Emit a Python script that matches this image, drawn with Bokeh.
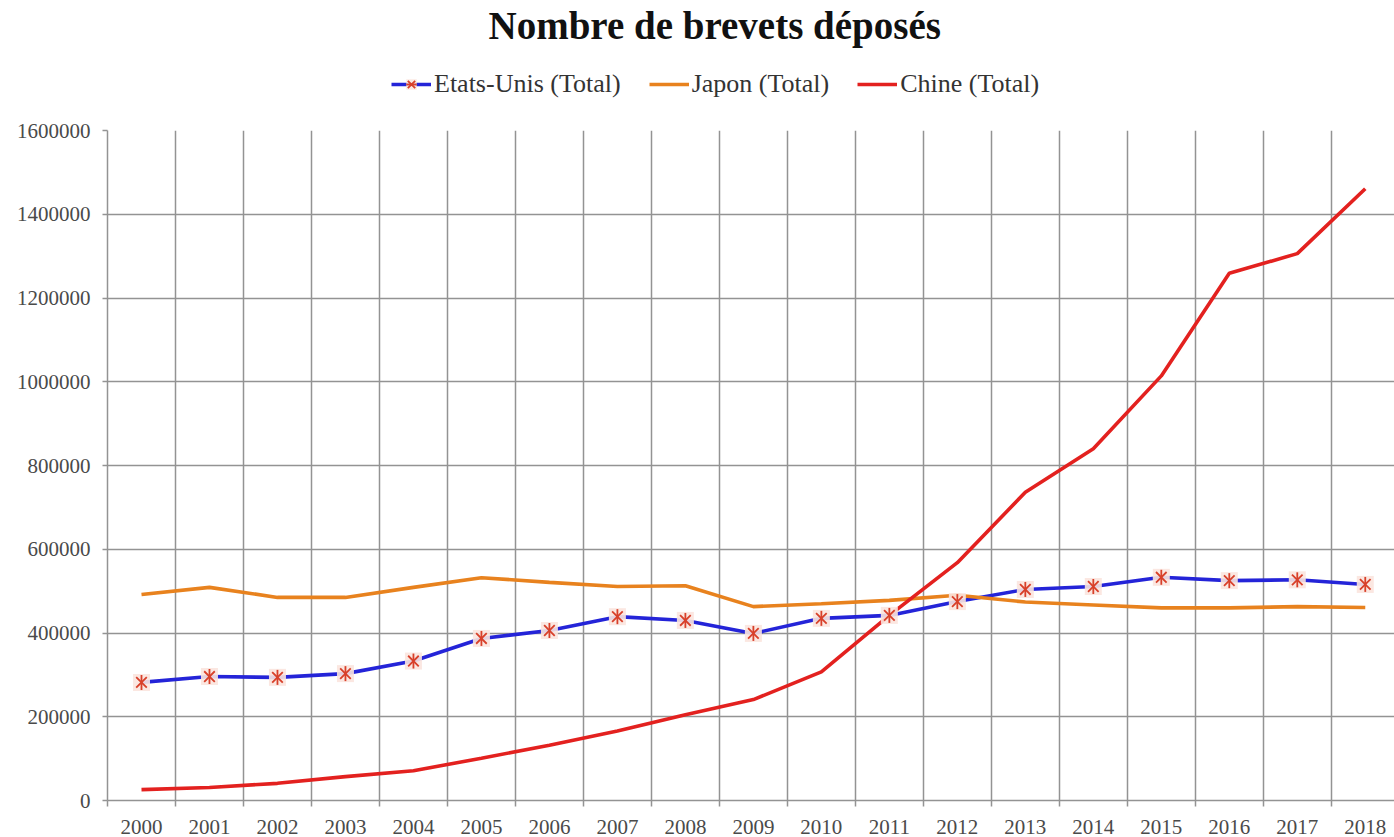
import math
from bokeh.plotting import figure
from bokeh.layouts import column
from bokeh.models import (FixedTicker, NumeralTickFormatter, Legend, LegendItem,
                          Range1d, Label, ColumnDataSource)
from bokeh.embed import file_html
from bokeh.resources import INLINE

# ---------------- data ----------------
years = list(range(2000, 2019))
year_labels = [str(y) for y in years]
etats_unis = [282000, 296000, 294000, 303000, 333000, 387000, 406000, 439000, 430000, 399000,
              435000, 442000, 475000, 504000, 511000, 533000, 525000, 527000, 516000]
japon = [492000, 509000, 485000, 485000, 509000, 532000, 521000, 511000, 513000, 463000,
         470000, 478000, 490000, 474000, 467000, 460000, 460000, 463000, 461000]
chine = [26000, 31000, 41000, 57000, 71000, 101000, 132000, 166000, 205000, 241000,
         307000, 442000, 568000, 736000, 840000, 1014000, 1259000, 1306000, 1461000]
y_ticks = [0, 200000, 400000, 600000, 800000, 1000000, 1200000, 1400000, 1600000]
series_names = ["Etats-Unis (Total)", "Japon (Total)", "Chine (Total)"]
title_text = "Nombre de brevets déposés"

FONT = "Liberation Serif"
GRID = "#939393"
BLUE = "#2424d8"
ORANGE = "#e8821e"
RED = "#e3211f"
MARK = "#d8402a"
HALO = "#fbe4de"

W = 1394
H = 837
LEFT = 107
HEADER_H = 100


def draw_series(fig, src):
    l_us = fig.line("x", "us", source=src, line_color=BLUE, line_width=3.6)
    l_jp = fig.line("x", "jp", source=src, line_color=ORANGE, line_width=3.6)
    l_cn = fig.line("x", "cn", source=src, line_color=RED, line_width=3.6)
    m_halo = fig.scatter("x", "us", source=src, marker="square", size=17,
                         fill_color=HALO, fill_alpha=0.9, line_color=None)
    m_x = fig.scatter("x", "us", source=src, marker="x", size=15,
                      line_color=MARK, line_width=1.8)
    m_d = fig.scatter("x", "us", source=src, marker="dash", size=15, angle=math.pi / 2,
                      line_color=MARK, line_width=1.8)
    return [l_us, m_halo, m_x, m_d], [l_jp], [l_cn]


# ---------------- header (title + legend) ----------------
head = figure(width=W, height=HEADER_H, output_backend="svg", toolbar_location=None,
              x_range=Range1d(LEFT, W), y_range=Range1d(0, HEADER_H),
              min_border_left=LEFT, min_border_right=0,
              min_border_top=0, min_border_bottom=0)
head.axis.visible = False
head.grid.visible = False
head.outline_line_color = None
head.add_layout(Label(x=488, y=HEADER_H - 25, text=title_text, text_font=FONT,
                      text_font_style="bold", text_font_size="39px", text_color="#111111",
                      text_align="left", text_baseline="middle"))
# legend glyph carriers: a single point placed outside the header's visible ranges
swatch = ColumnDataSource(dict(x=[0], us=[-1000], jp=[-1000], cn=[-1000]))
r_us, r_jp, r_cn = draw_series(head, swatch)
legend = Legend(items=[
    LegendItem(label=series_names[0], renderers=r_us),
    LegendItem(label=series_names[1], renderers=r_jp),
    LegendItem(label=series_names[2], renderers=r_cn),
], orientation="horizontal", location=(391 - LEFT, 1))
legend.label_text_font = FONT
legend.label_text_font_size = "26px"
legend.label_text_color = "#333333"
legend.glyph_width = 40
legend.glyph_height = 26
legend.label_height = 26
legend.label_standoff = 3
legend.spacing = 28
legend.padding = 0
legend.margin = 0
legend.border_line_color = None
legend.background_fill_alpha = 0
head.add_layout(legend, "center")

# ---------------- main chart ----------------
p = figure(width=W, height=H - HEADER_H, output_backend="svg", toolbar_location=None,
           x_range=Range1d(1999.5, 2018.43), y_range=Range1d(0, 1600000),
           min_border_left=LEFT, min_border_right=0, min_border_bottom=37,
           min_border_top=130 - HEADER_H,
           background_fill_color="white", border_fill_color="white")
p.outline_line_color = None

src = ColumnDataSource(dict(x=years, us=etats_unis, jp=japon, cn=chine))
draw_series(p, src)

# x axis
p.xaxis.ticker = FixedTicker(ticks=years, minor_ticks=[y - 0.5 for y in years])
p.xaxis.major_label_overrides = {y: s for y, s in zip(years, year_labels)}
p.xaxis.major_tick_line_color = None
p.xaxis.major_tick_out = 0
p.xaxis.minor_tick_in = 0
p.xaxis.minor_tick_out = 6
p.xaxis.minor_tick_line_color = GRID
p.xaxis.minor_tick_line_width = 1.5
p.xaxis.axis_line_color = GRID
p.xaxis.axis_line_width = 1.5
p.xaxis.major_label_standoff = 13
p.xaxis.major_label_text_font = FONT
p.xaxis.major_label_text_font_size = "21px"
p.xaxis.major_label_text_color = "#4a4a4a"

# y axis
p.yaxis.ticker = FixedTicker(ticks=y_ticks)
p.yaxis.formatter = NumeralTickFormatter(format="0")
p.yaxis.major_tick_in = 0
p.yaxis.major_tick_out = 5
p.yaxis.major_tick_line_color = GRID
p.yaxis.major_tick_line_width = 1.5
p.yaxis.minor_tick_line_color = None
p.yaxis.axis_line_color = GRID
p.yaxis.axis_line_width = 1.5
p.yaxis.major_label_standoff = 12
p.yaxis.major_label_text_font = FONT
p.yaxis.major_label_text_font_size = "21px"
p.yaxis.major_label_text_color = "#4a4a4a"

# grids
p.xgrid.ticker = FixedTicker(ticks=[y + 0.5 for y in years])
p.xgrid.grid_line_color = GRID
p.xgrid.grid_line_width = 1.5
p.ygrid.grid_line_color = GRID
p.ygrid.grid_line_width = 1.5

layout = column(head, p, spacing=0)
open("out.html", "w").write(file_html(layout, INLINE))
